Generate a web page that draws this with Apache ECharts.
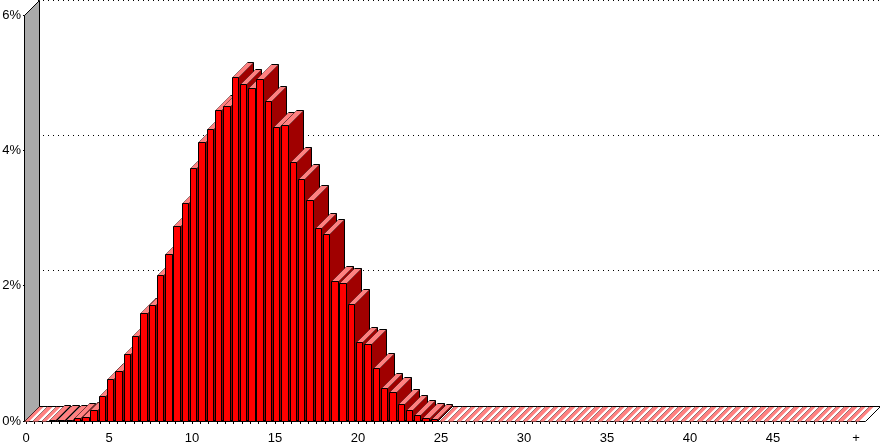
<!DOCTYPE html>
<html>
<head>
<meta charset="utf-8">
<style>html,body{margin:0;padding:0;background:#fff}#c{width:880px;height:443px}</style>
<script src="https://cdn.jsdelivr.net/npm/echarts@6/dist/echarts.min.js"></script>
</head>
<body>
<div id="c"></div>
<script>
// Share (%) per half-unit bin
const activeShares = [0,0,0,0.01,0.015,0.015,0.04,0.06,0.16,0.37,0.62,0.74,0.99,1.26,1.6,1.71,2.16,2.47,2.88,3.22,3.74,4.12,4.32,4.6,4.66,5.08,4.98,4.92,5.05,4.73,4.34,4.37,3.83,3.58,3.27,2.85,2.76,2.07,2.04,1.73,1.17,1.14,0.78,0.49,0.43,0.25,0.16,0.09,0.04,0.03];
const binCount = 101;
const tickLabels = ['0','5','10','15','20','25','30','35','40','45','+'];
const yTicks = [0,2,4,6];

const categories = Array.from({length: binCount}, (_, i) => i % 10 === 0 ? tickLabels[i / 10] : String(i / 2));
const values = categories.map((_, i) => i < activeShares.length ? activeShares[i] : 0);

const DEPTH = 15, FRONT_SHIFT = -2, BAR_W = 6.4;
const COLORS = {front:'#ff0000', side:'#a00000', top:'#ff8080', wall:'#aaaaaa'};
const snap = v => Math.round(v) + 0.5;
const line = {stroke:'#000', lineWidth:1};

function poly(points, fill) {
  return {type:'polygon', shape:{points}, style:Object.assign({fill}, line)};
}
function seg(a, b, width) {
  return {type:'line', shape:{x1:a[0],y1:a[1],x2:b[0],y2:b[1]}, style:{stroke:'#000', lineWidth:width}};
}

function renderBar(params, api) {
  const top = api.coord([api.value(0), api.value(1)]);
  const base = api.coord([api.value(0), 0]);
  const x0 = snap(top[0] + FRONT_SHIFT), x1 = snap(top[0] + FRONT_SHIFT + BAR_W);
  const yb = snap(base[1]), yt = snap(top[1]);
  const raised = yb > yt;
  const xf = raised ? x1 : x1 - 1.5;
  const children = [];
  if (raised) {
    children.push(poly([[x1,yb],[x1+DEPTH,yb-DEPTH],[x1+DEPTH,yt-DEPTH],[x1,yt]], COLORS.side));
  }
  children.push({type:'polygon', shape:{points:[[x0,yt],[x0+DEPTH,yt-DEPTH],[xf+DEPTH,yt-DEPTH],[xf,yt]]}, style:{fill:COLORS.top, stroke:null}});
  children.push(seg([x0,yt],[x0+DEPTH,yt-DEPTH],0.4));
  children.push(seg([x0+DEPTH,yt-DEPTH],[x1+DEPTH,yt-DEPTH],1));
  if (raised) {
    children.push({type:'rect', shape:{x:x0,y:yt,width:x1-x0,height:yb-yt}, style:Object.assign({fill:COLORS.front}, line)});
  }
  return {type:'group', children};
}

function renderFloorAndWall(params, api) {
  const o = api.coord([0,0]), t = api.coord([0,yTicks[yTicks.length-1]]), e = api.coord([binCount-1,0]);
  const xl = snap(o[0] + FRONT_SHIFT), yb = snap(o[1]), yt = snap(t[1]), xr = snap(e[0] + 9);
  return {type:'group', children:[
    poly([[xl,yb],[xr,yb],[xr+DEPTH,yb-DEPTH],[xl+DEPTH,yb-DEPTH]], '#ffffff'),
    poly([[xl,yb],[xl,yt],[xl+DEPTH,yt-DEPTH],[xl+DEPTH,yb-DEPTH]], COLORS.wall)
  ]};
}

const labelFont = {color:'#000', fontFamily:'"Liberation Sans", Arial, sans-serif', fontSize:13};

const chart = echarts.init(document.getElementById('c'), null, {renderer:'canvas'});
chart.setOption({
  animation:false,
  backgroundColor:'#fff',
  grid:[
    {left:26, right:24, top:15, height:406, outerBoundsMode:'none'},
    {left:38, right:0, top:0, height:406, z:0, outerBoundsMode:'none'}
  ],
  xAxis:[
    {type:'category', gridIndex:0, data:categories, boundaryGap:false,
     axisLine:{show:false},
     axisTick:{show:true, interval:0, length:3, lineStyle:{color:'#000'}},
     axisLabel:Object.assign({show:true, interval:9, margin:11, hideOverlap:false}, labelFont),
     splitLine:{show:false}},
    {type:'category', gridIndex:1, data:categories, show:false}
  ],
  yAxis:[
    {type:'value', gridIndex:0, min:0, max:6, interval:2,
     axisLine:{show:false},
     axisTick:{show:true, length:3, lineStyle:{color:'#000'}},
     axisLabel:Object.assign({formatter:'{value}%', margin:5, verticalAlignMinLabel:'middle', verticalAlignMaxLabel:'middle'}, labelFont),
     splitLine:{show:false}},
    {type:'value', gridIndex:1, min:0, max:6, interval:2,
     axisLine:{show:false}, axisTick:{show:false}, axisLabel:{show:false},
     splitLine:{show:true, lineStyle:{color:'#000', width:1, type:[1,4]}}}
  ],
  series:[
    {type:'custom', xAxisIndex:0, yAxisIndex:0, clip:false, silent:true, z:2,
     data:[[0,0]], renderItem:renderFloorAndWall},
    {type:'custom', xAxisIndex:0, yAxisIndex:0, clip:false, silent:true, z:3,
     data:values.map((v,i)=>[i,v]), encode:{x:0,y:1}, renderItem:renderBar}
  ]
});
</script>
</body>
</html>
